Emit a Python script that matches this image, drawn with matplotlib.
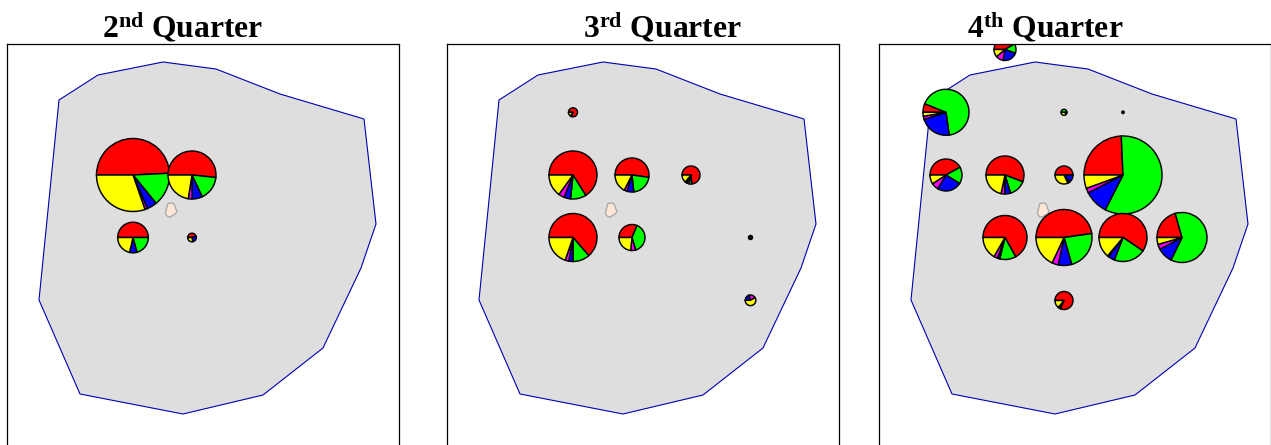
# Quarterly catch pies on a map region, three panels
import matplotlib
matplotlib.use("Agg")
import matplotlib.pyplot as plt

W, H = 1271, 445

titles = [r"$\mathbf{2^{nd}}$ Quarter", r"$\mathbf{3^{rd}}$ Quarter", r"$\mathbf{4^{th}}$ Quarter"]

# outline of the region and the small island, map units
region_x = [59, 98, 163, 216, 280, 364, 376, 361, 323, 263, 183, 80, 39]
region_y = [345, 370, 383, 376, 351, 326, 221, 177, 97, 50, 31, 51, 145]
island_x = [167.5, 170, 173.5, 175, 175.5, 177, 175.5, 173, 170.5, 167.5, 165.5, 166, 167]
island_y = [241, 242, 241.5, 239, 236.5, 234, 231, 230, 228, 228.5, 231, 234, 238]

# one entry per pie: location, radius, then slice angles in degrees
q2_x = [133, 192, 133, 192]
q2_y = [270, 270, 207.5, 207.5]
q2_r = [36.5, 24, 15.3, 4.3]
q2_red = [177, 186, 180, 160]
q2_green = [53.5, 59, 75, 0]
q2_blue = [16, 25, 28, 100]
q2_magenta = [4, 9, 0, 0]
q2_black = [0, 0, 0, 0]
q2_yellow = [109, 81, 77, 100]

q3_x = [133, 133, 192, 251, 133, 192, 310.5, 310.5]
q3_y = [332.7, 270, 270, 270, 207.5, 207.5, 207.5, 144.7]
q3_r = [4.5, 24, 17, 9, 24, 13, 2, 5.3]
q3_red = [290, 238, 188, 265, 229, 113, 120, 0]
q3_green = [0, 38, 76, 18, 41, 141, 0, 0]
q3_blue = [0, 16, 23, 0, 10, 0, 0, 75]
q3_magenta = [0, 14, 10, 15, 9, 22, 0, 75]
q3_black = [15, 0, 0, 12, 0, 0, 240, 0]
q3_yellow = [55, 54, 63, 50, 71, 84, 0, 210]

q4_x = [133, 74, 192, 251, 74, 133, 192, 251, 133, 192, 251, 310, 192]
q4_y = [395.5, 332.7, 332.7, 332.7, 270, 270, 270, 270, 207.5, 207.5, 207.5, 207.5, 144.5]
q4_r = [11, 23, 3, 1.2, 16, 19, 9, 39, 22, 28, 24, 25, 9]
q4_red = [150, 22, 0, 0, 151, 201, 180, 87.5, 241, 172, 214, 74.3, 294]
q4_green = [50, 240, 180, 0, 61, 52, 0, 209.5, 43, 82, 77, 221.7, 0]
q4_blue = [80, 80, 0, 0, 89, 18, 50, 36, 6, 28, 16, 36, 0]
q4_magenta = [40, 8, 0, 0, 26, 11, 10, 7, 10, 13, 0, 12, 0]
q4_black = [0, 0, 30, 360, 0, 0, 5, 0, 0, 0, 3, 0, 16]
q4_yellow = [40, 10, 150, 0, 33, 78, 115, 20, 60, 65, 50, 16, 50]

quarters = [
    (q2_x, q2_y, q2_r, q2_red, q2_green, q2_blue, q2_magenta, q2_black, q2_yellow),
    (q3_x, q3_y, q3_r, q3_red, q3_green, q3_blue, q3_magenta, q3_black, q3_yellow),
    (q4_x, q4_y, q4_r, q4_red, q4_green, q4_blue, q4_magenta, q4_black, q4_yellow),
]
slice_colors = ["#ff0000", "#00ff00", "#0000ff", "#ff00ff", "#000000", "#ffff00"]

panel_left = [7, 447, 879]
title_center = [183, 662, 1045]

plt.rcParams["mathtext.fontset"] = "custom"
plt.rcParams["mathtext.bf"] = "Liberation Serif:bold"
plt.rcParams["mathtext.rm"] = "Liberation Serif:bold"

fig = plt.figure(figsize=(W / 100, H / 100), dpi=100)

for i, q in enumerate(quarters):
    # the panels run off the bottom of the figure
    ax = fig.add_axes([panel_left[i] / W, -1 / H, 392 / W, 402 / H])
    ax.fill(region_x, region_y, facecolor="#dedede", edgecolor="#0000b0", linewidth=0.8, zorder=1)
    ax.fill(island_x, island_y, facecolor="#ffe8d8", edgecolor="#aaaaaa", linewidth=1.0, zorder=1)

    xs, ys, rs = q[0], q[1], q[2]
    for k in range(len(xs)):
        vals = [col[k] for col in q[3:]]
        # drop empty slices so they leave no spoke line
        used = [(v, c) for v, c in zip(vals, slice_colors) if v > 0]
        ax.pie([u[0] for u in used], colors=[u[1] for u in used],
               center=(xs[k], ys[k]), radius=rs[k], startangle=180,
               counterclock=False, frame=True, normalize=True,
               wedgeprops={"edgecolor": "black", "linewidth": 1.05, "clip_on": True, "zorder": 3})

    ax.set_xlim(7, 399)
    ax.set_ylim(-1, 401)
    ax.set_aspect("auto")
    ax.set_xticks([])
    ax.set_yticks([])
    for s in ax.spines.values():
        s.set_linewidth(0.9)
        s.set_zorder(5)

    fig.text(title_center[i] / W, 1 - 37 / H, titles[i], ha="center", va="baseline",
             fontsize=22.8, family="Liberation Serif", fontweight="bold")

fig.savefig("out.png", dpi=100)
